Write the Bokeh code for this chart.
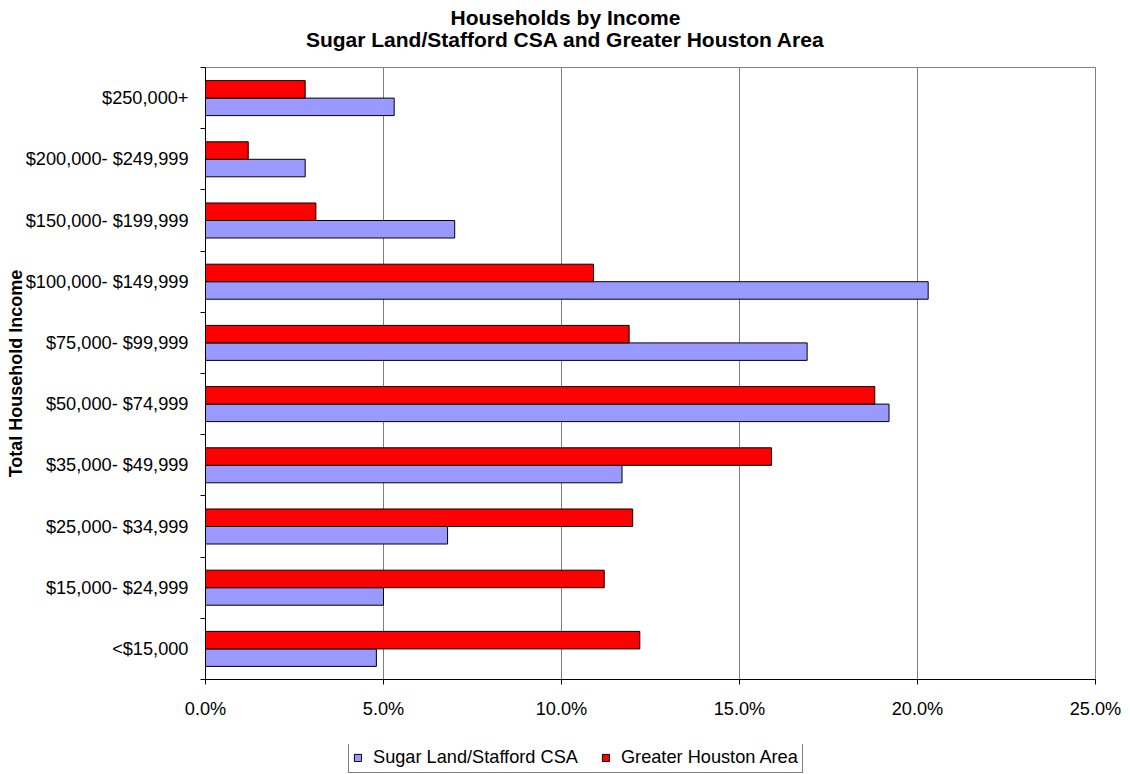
from bokeh.plotting import figure
from bokeh.layouts import column
from bokeh.models import (ColumnDataSource, FixedTicker, PrintfTickFormatter, Legend,
                          LegendItem, Label, Range1d)
from bokeh.embed import file_html
from bokeh.resources import INLINE

title_lines = ["Households by Income", "Sugar Land/Stafford CSA and Greater Houston Area"]
categories = ["<$15,000", "$15,000- $24,999", "$25,000- $34,999", "$35,000- $49,999",
              "$50,000- $74,999", "$75,000- $99,999", "$100,000- $149,999",
              "$150,000- $199,999", "$200,000- $249,999", "$250,000+"]
sugar_land = [4.8, 5.0, 6.8, 11.7, 19.2, 16.9, 20.3, 7.0, 2.8, 5.3]
houston = [12.2, 11.2, 12.0, 15.9, 18.8, 11.9, 10.9, 3.1, 1.2, 2.8]
series_names = ["Sugar Land/Stafford CSA", "Greater Houston Area"]
series_colors = ["#9999FF", "#FF0000"]
x_ticks = [0, 5, 10, 15, 20, 25]

FONT = "Liberation Sans"
LBL = "18.2px"
BAR_H = 0.286
W = 1130
FRAME_L, FRAME_R = 205, 1095

idx = list(range(len(categories)))
centers = [i + 0.5 for i in idx]
src_sugar = ColumnDataSource(dict(y=[c - BAR_H / 2 for c in centers], v=sugar_land))
src_hou = ColumnDataSource(dict(y=[c + BAR_H / 2 for c in centers], v=houston))
sources = [src_sugar, src_hou]

# ---- title strip (frame aligned with the chart's frame; coordinates are pixels) ----
t = figure(width=W, height=67, output_backend="svg", toolbar_location=None,
           x_range=Range1d(FRAME_L, FRAME_R), y_range=Range1d(67, 0), min_border=0)
t.outline_line_color = None
t.axis.visible = False
t.grid.visible = False
for txt, yy in zip(title_lines, [17, 39]):
    t.add_layout(Label(x=W / 2, y=yy, text=txt, text_align="center", text_baseline="middle",
                       text_font=FONT, text_font_size="21px", text_font_style="bold",
                       text_color="black"))

# ---- chart ----
p = figure(width=W, height=677, output_backend="svg", toolbar_location=None,
           x_range=Range1d(0, 25), y_range=Range1d(0, len(categories)),
           min_border_left=FRAME_L, min_border_right=W - FRAME_R, min_border_top=0,
           min_border_bottom=65)
p.background_fill_color = "white"
p.border_fill_color = "white"
p.outline_line_color = "#808080"
p.outline_line_width = 1

for src, col in zip(sources, series_colors):
    p.hbar(y="y", right="v", left=0, height=BAR_H, source=src,
           fill_color=col, line_color="black", line_width=1)

p.xaxis.ticker = FixedTicker(ticks=x_ticks)
p.xaxis.formatter = PrintfTickFormatter(format="%.1f%%")
p.xaxis.major_label_text_font = FONT
p.xaxis.major_label_text_font_size = LBL
p.xaxis.major_label_text_color = "black"
p.xaxis.major_label_standoff = 14
p.xaxis.major_tick_in = 0
p.xaxis.major_tick_out = 5
p.xaxis.minor_tick_line_color = None
p.xaxis.axis_line_color = "black"
p.xaxis.major_tick_line_color = "black"

# y axis: labels at category centers, tick marks at category boundaries
p.yaxis.ticker = FixedTicker(ticks=centers, minor_ticks=list(range(len(categories) + 1)))
p.yaxis.major_label_overrides = {c: lab for c, lab in zip(centers, categories)}
p.yaxis.major_label_text_font = FONT
p.yaxis.major_label_text_font_size = LBL
p.yaxis.major_label_text_color = "black"
p.yaxis.major_label_standoff = 12
p.yaxis.major_tick_in = 0
p.yaxis.major_tick_out = 0
p.yaxis.minor_tick_in = 0
p.yaxis.minor_tick_out = 5
p.yaxis.minor_tick_line_color = "black"
p.yaxis.axis_line_color = "black"
p.yaxis.axis_label = "Total Household Income"
p.yaxis.axis_label_text_font = FONT
p.yaxis.axis_label_text_font_size = "18px"
p.yaxis.axis_label_text_font_style = "bold"
p.yaxis.axis_label_text_color = "black"
p.yaxis.axis_label_standoff = -3

p.xgrid.grid_line_color = "#808080"
p.xgrid.grid_line_width = 1
p.ygrid.grid_line_color = None

# ---- legend strip below the chart ----
q = figure(width=W, height=30, output_backend="svg", toolbar_location=None,
           x_range=Range1d(0, 25), y_range=Range1d(100, 101), min_border=0)
q.outline_line_color = None
q.axis.visible = False
q.grid.visible = False
leg_r = [q.hbar(y="y", right="v", left=0, height=BAR_H, source=src, fill_color=col,
                line_color="black", line_width=1)
         for src, col in zip(sources, series_colors)]
legend = Legend(items=[LegendItem(label=n, renderers=[r]) for n, r in zip(series_names, leg_r)],
                orientation="horizontal", location=(143, 1),
                label_text_font=FONT, label_text_font_size=LBL, label_text_color="black",
                glyph_width=9, glyph_height=9, label_standoff=11, spacing=23,
                padding=4, margin=0, border_line_color="black", border_line_width=1,
                background_fill_color="white", label_height=18)
q.add_layout(legend, "center")

open("out.html", "w").write(file_html(column(t, p, q, spacing=0), INLINE))
